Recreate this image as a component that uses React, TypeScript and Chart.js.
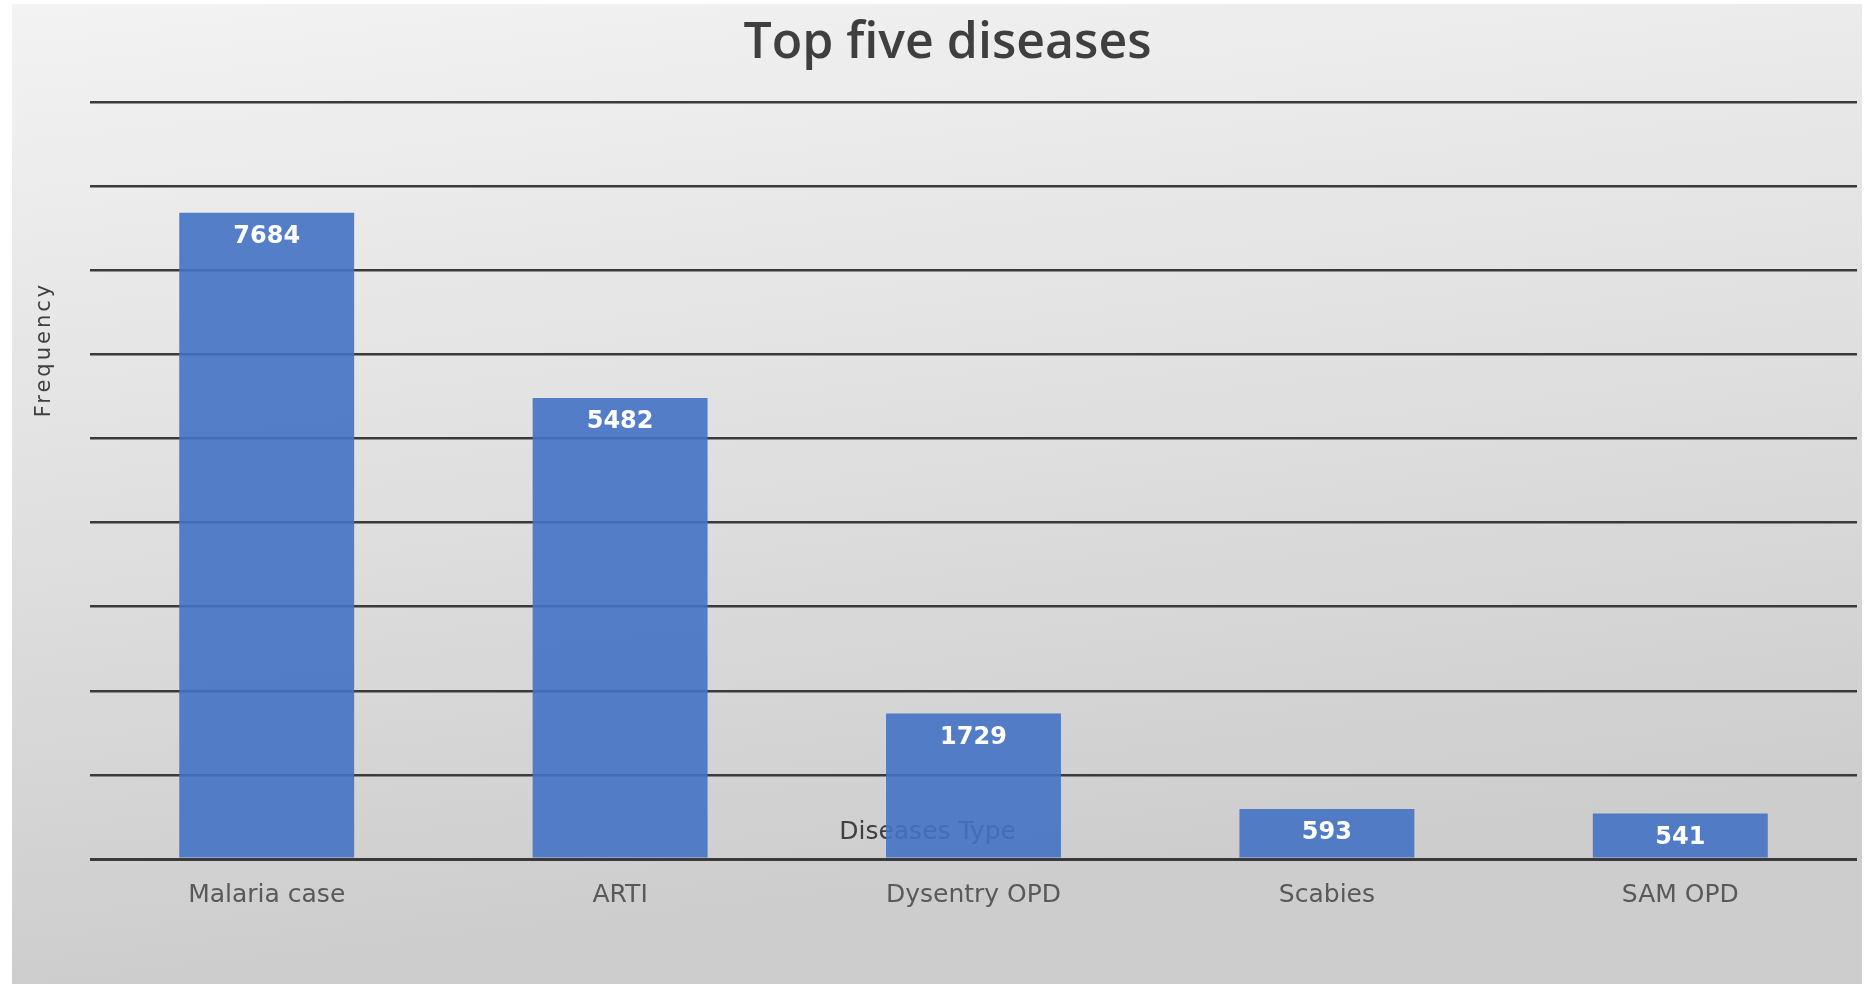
import React, { useEffect, useRef } from "react";
import { Chart, registerables } from "chart.js";

Chart.register(...registerables);

const categories = ["Malaria case", "ARTI", "Dysentry OPD", "Scabies", "SAM OPD"];
const frequencies = [7684, 5482, 1729, 593, 541];
const yMin = 0;
const yMax = 9000;
const yStep = 1000;
const titleText = "Top five diseases";
const yAxisTitle = "Frequency";
const xAxisTitle = "Diseases Type";

const W = 1869;
const H = 984;

export default function App() {
  const ref = useRef<HTMLCanvasElement>(null);

  useEffect(() => {
    document.body.style.margin = "0";
    const canvas = ref.current!;

    const bgPlugin = {
      id: "bg",
      beforeDraw(chart: any) {
        const { ctx, width, height } = chart;
        ctx.save();
        ctx.fillStyle = "#ffffff";
        ctx.fillRect(0, 0, width, height);
        const g = ctx.createLinearGradient(0, 0, width * 0.06, height);
        g.addColorStop(0, "#f3f3f3");
        g.addColorStop(0.5, "#e1e1e1");
        g.addColorStop(1, "#cdcdcd");
        ctx.fillStyle = g;
        ctx.fillRect(12, 4, width - 19, height - 4);
        ctx.restore();
      },
    };

    const textPlugin = {
      id: "texts",
      beforeDatasetsDraw(chart: any) {
        const { ctx, chartArea, width } = chart;
        const cw = chartArea.right - chartArea.left;
        const ch = chartArea.bottom - chartArea.top;
        ctx.save();
        ctx.fillStyle = "#3f3f3f";
        ctx.textAlign = "center";
        ctx.textBaseline = "middle";
        ctx.font = "600 50px 'Open Sans'";
        ctx.fillText(titleText, width / 2 + 13, chartArea.top - 58);
        ctx.fillStyle = "#404040";
        ctx.font = "25px 'DejaVu Sans'";
        ctx.fillText(xAxisTitle, chartArea.left + cw * 0.474, chartArea.bottom - 27);
        ctx.translate(chartArea.left - 45, chartArea.top + ch * 0.327);
        ctx.rotate(-Math.PI / 2);
        ctx.font = "21px 'DejaVu Sans'";
        (ctx as any).letterSpacing = "3px";
        ctx.fillText(yAxisTitle, 0, 0);
        ctx.restore();
      },
    };

    const valueLabelsPlugin = {
      id: "valueLabels",
      afterDatasetsDraw(chart: any) {
        const { ctx } = chart;
        const meta = chart.getDatasetMeta(0);
        ctx.save();
        ctx.fillStyle = "#ffffff";
        ctx.textAlign = "center";
        ctx.textBaseline = "middle";
        ctx.font = "bold 24px 'DejaVu Sans'";
        meta.data.forEach((bar: any, i: number) => {
          ctx.fillText(String(frequencies[i]), bar.x, bar.y + 24);
        });
        ctx.restore();
      },
    };

    const chart = new Chart(canvas, {
      type: "bar",
      data: {
        labels: categories,
        datasets: [
          {
            label: yAxisTitle,
            data: frequencies,
            backgroundColor: "rgba(68,114,196,0.9)",
            borderWidth: 0,
            barPercentage: 0.495,
            categoryPercentage: 1,
          },
        ],
      },
      options: {
        animation: false,
        responsive: false,
        devicePixelRatio: 1,
        layout: { padding: { left: 90, right: 12, top: 102, bottom: 53 } },
        plugins: {
          legend: { display: false },
          tooltip: { enabled: false },
          title: { display: false },
        },
        scales: {
          x: {
            grid: { display: false, drawTicks: false },
            border: { display: false },
            ticks: {
              color: "#595959",
              font: { family: "'DejaVu Sans'", size: 25, lineHeight: 1.2 },
              padding: 21,
              maxRotation: 0,
              autoSkip: false,
            },
          },
          y: {
            min: yMin,
            max: yMax,
            ticks: { display: false, stepSize: yStep },
            border: { display: false },
            grid: {
              drawTicks: false,
              color: "#3a3a3a",
              lineWidth: (c: any) => (c.tick && c.tick.value === 0 ? 3 : 2.5),
            },
          },
        },
      },
      plugins: [bgPlugin, textPlugin, valueLabelsPlugin],
    });

    return () => chart.destroy();
  }, []);

  return (
    <div style={{ width: W, height: H }}>
      <canvas ref={ref} width={W} height={H} style={{ display: "block" }} />
    </div>
  );
}
